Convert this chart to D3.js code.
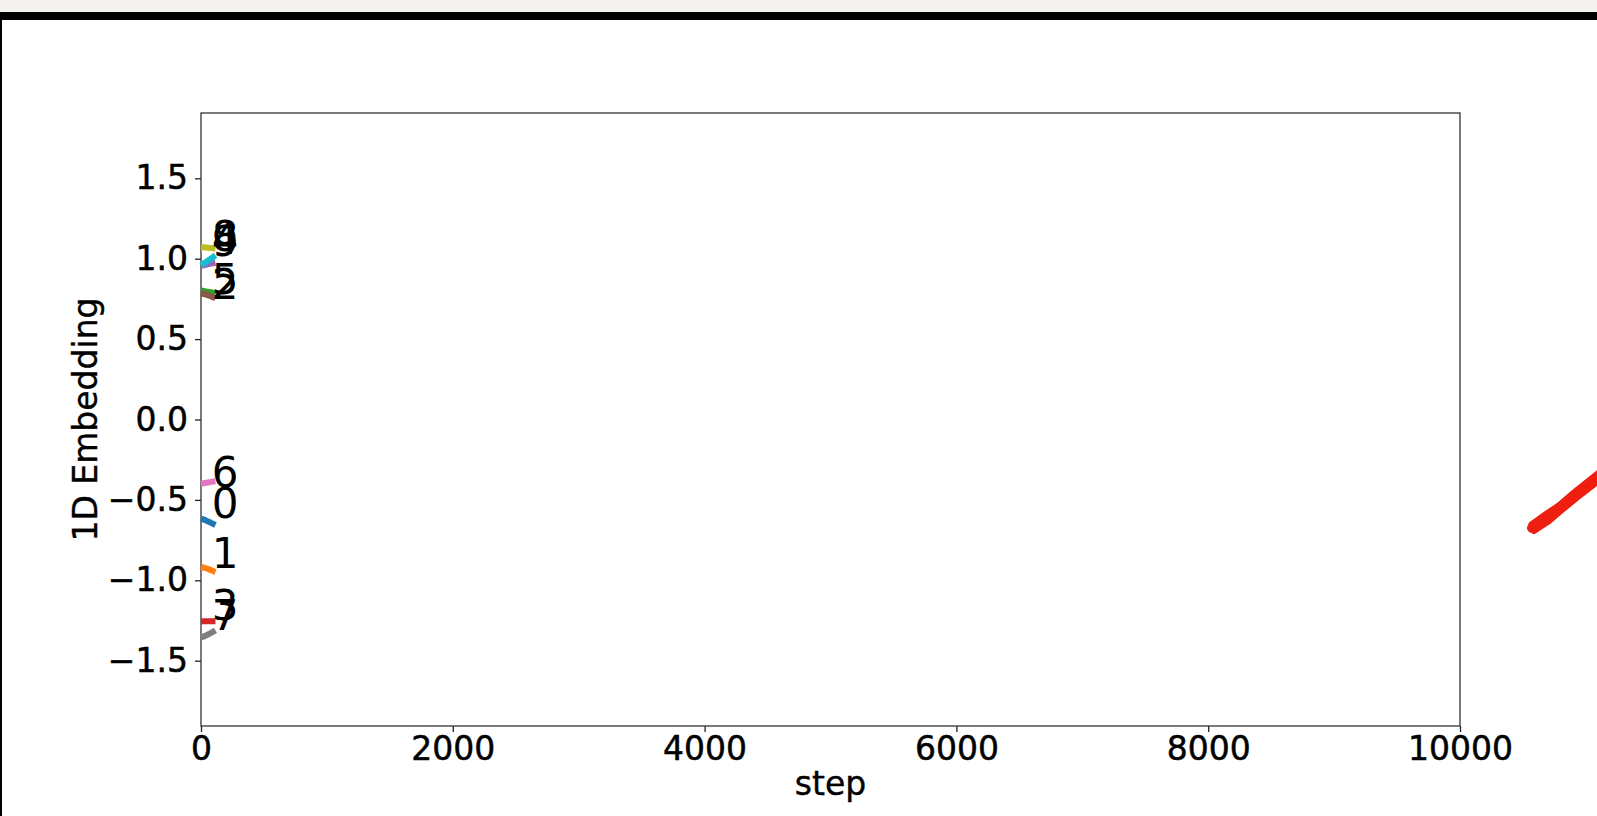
<!DOCTYPE html>
<html>
<head>
<meta charset="utf-8">
<script src="https://cdn.jsdelivr.net/npm/d3@7"></script>
<style>
  html, body { margin: 0; padding: 0; background: #fff; }
  svg { display: block; font-family: "DejaVu Sans", sans-serif; }
</style>
</head>
<body>
<div id="chart"></div>
<script>
// training steps sampled for each trajectory
const steps = [0, 40, 80, 115];
// digit classes, drawn in tab10 order
const digits = ["0", "1", "2", "3", "4", "5", "6", "7", "8", "9"];
// 1D embedding value of each digit along the steps
const traj0 = [-0.616, -0.628, -0.643, -0.656];
const traj1 = [-0.917, -0.925, -0.937, -0.948];
const traj2 = [0.803, 0.797, 0.791, 0.785];
const traj3 = [-1.255, -1.255, -1.254, -1.254];
const traj4 = [0.955, 0.962, 0.969, 0.975];
const traj5 = [0.785, 0.776, 0.765, 0.754];
const traj6 = [-0.399, -0.393, -0.388, -0.384];
const traj7 = [-1.356, -1.343, -1.327, -1.311];
const traj8 = [1.073, 1.070, 1.066, 1.063];
const traj9 = [0.959, 0.980, 1.001, 1.021];
// where each digit's text label sits (embedding value)
const labelValues = [-0.615, -0.925, 0.752, -1.246, 1.032, 0.778, -0.420, -1.311, 1.045, 1.015];
const labelStep = 85;
const xTicks = [0, 2000, 4000, 6000, 8000, 10000];
const yTicks = [-1.5, -1.0, -0.5, 0.0, 0.5, 1.0, 1.5];

const trajectories = [traj0, traj1, traj2, traj3, traj4, traj5, traj6, traj7, traj8, traj9];
const colors = d3.schemeCategory10;

const W = 1597, H = 816;
const margin = {top: 113, right: 137, bottom: 90, left: 201};
const width = W - margin.left - margin.right,
      height = H - margin.top - margin.bottom;

const svg = d3.select("#chart").append("svg")
  .attr("width", W)
  .attr("height", H);

// screen-capture frame: light strip, black bar, left edge
svg.append("rect").attr("x", 0).attr("y", 0).attr("width", W).attr("height", 12).attr("fill", "#f3f2ef");
svg.append("rect").attr("x", 0).attr("y", 12).attr("width", W).attr("height", 8).attr("fill", "#000");
svg.append("rect").attr("x", 0).attr("y", 20).attr("width", 2).attr("height", H - 20).attr("fill", "#000");

const g = svg.append("g")
  .attr("transform", `translate(${margin.left},${margin.top})`);

const x = d3.scaleLinear().domain([0, 10000]).range([0, width]);
const y = d3.scaleLinear().domain([-1.906, 1.906]).range([height, 0]);

const fontSize = 33;

// x axis
const xAxis = g.append("g")
  .attr("transform", `translate(0,${height})`)
  .call(d3.axisBottom(x).tickValues(xTicks).tickFormat(d3.format("d")).tickSize(6).tickPadding(5));
// y axis
const yAxis = g.append("g")
  .call(d3.axisLeft(y).tickValues(yTicks).tickFormat(d3.format(".1f")).tickSize(6).tickPadding(7));

[xAxis, yAxis].forEach(a => {
  a.select(".domain").remove();
  a.selectAll(".tick line").attr("stroke", "#222").attr("stroke-width", 1.3);
  a.selectAll("text").attr("font-size", fontSize).attr("fill", "#000")
    .attr("stroke", "#000").attr("stroke-width", 0.5)
    .attr("font-family", "DejaVu Sans");
});

// frame of the axes
g.append("rect")
  .attr("width", width).attr("height", height)
  .attr("fill", "none").attr("stroke", "#333").attr("stroke-width", 1.3);

// axis titles
g.append("text")
  .attr("x", width / 2).attr("y", height + 69)
  .attr("text-anchor", "middle")
  .attr("font-size", fontSize)
  .attr("stroke", "#000").attr("stroke-width", 0.4)
  .text("step");

g.append("text")
  .attr("transform", `translate(${97 - margin.left},${height / 2}) rotate(-90)`)
  .attr("text-anchor", "middle")
  .attr("font-size", fontSize)
  .attr("stroke", "#000").attr("stroke-width", 0.4)
  .text("1D Embedding");

// trajectories
const line = d3.line()
  .x((d, i) => x(steps[i]))
  .y(d => y(d))
  .curve(d3.curveMonotoneX);

g.append("g").selectAll("path")
  .data(trajectories)
  .enter()
  .append("path")
  .attr("d", d => line(d))
  .attr("fill", "none")
  .attr("stroke", (d, i) => colors[i])
  .attr("stroke-width", 6)
  .attr("stroke-linecap", "butt");

// digit labels at the end of each trajectory
g.append("g").selectAll("text")
  .data(digits)
  .enter()
  .append("text")
  .attr("x", x(labelStep))
  .attr("y", (d, i) => y(labelValues[i]))
  .attr("font-size", 42)
  .attr("fill", "#000")
  .text(d => d);

// red pen stroke at the right edge of the recording
const scribble = svg.append("g").attr("fill", "none").attr("stroke", "#ee1f10").attr("stroke-linecap", "round");
scribble.append("path")
  .attr("d", "M1532,528 L1546,517 L1558,509 L1571,498 L1585,487 L1600,475")
  .attr("stroke-width", 10);
scribble.append("path")
  .attr("d", "M1534,531 L1549,521 L1562,510 L1578,497 L1600,480")
  .attr("stroke-width", 6);
scribble.append("path")
  .attr("d", "M1531,524 L1545,514 L1560,504 L1575,491 L1600,471")
  .attr("stroke-width", 5);
</script>
</body>
</html>
